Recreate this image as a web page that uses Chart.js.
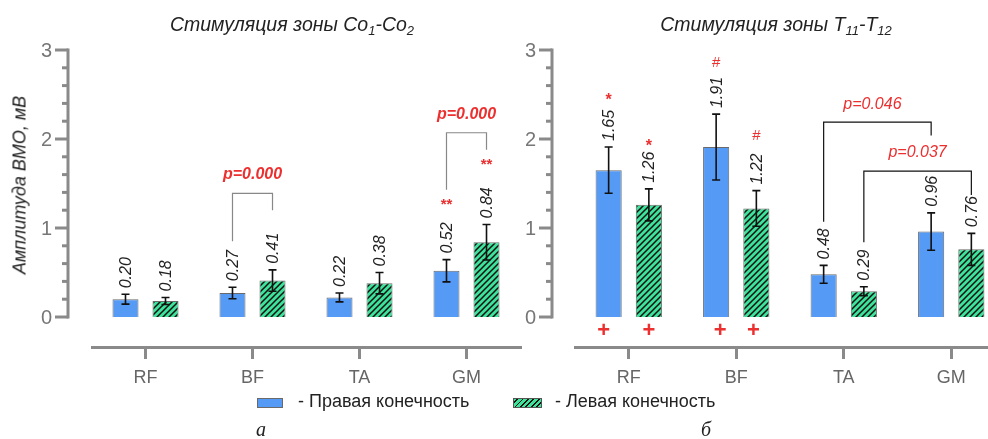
<!DOCTYPE html>
<html>
<head>
<meta charset="utf-8">
<script src="https://cdn.jsdelivr.net/npm/chart.js@4.4.1/dist/chart.umd.min.js"></script>
<style>
  html, body { margin: 0; padding: 0; width: 988px; height: 439px; overflow: hidden; background: #fff; }
  body { position: relative; font-family: "Liberation Sans", Arial, sans-serif; }
  canvas { position: absolute; top: 0; }
  #chartA { left: 0; }
  #chartB { left: 525px; }
  .title { position: absolute; top: 13px; font-size: 19.5px; font-style: italic; color: #222; white-space: nowrap; transform: translateX(-50%); }
  .title sub { font-size: 13px; vertical-align: -4px; }
  .ytitle { position: absolute; left: 20px; top: 185px; font-size: 18px; font-style: italic; color: #222; white-space: nowrap; transform: translate(-50%, -50%) rotate(-90deg); }
  .legend { position: absolute; top: 391px; font-size: 18px; color: #222; white-space: nowrap; }
  .swatch { position: absolute; top: 398px; height: 10px; box-sizing: border-box; }
  .sub-label { position: absolute; top: 418px; font-family: "Liberation Serif", "DejaVu Serif", serif; font-style: italic; font-size: 20px; color: #222; }
</style>
</head>
<body>
<canvas id="chartA" width="525" height="439"></canvas>
<canvas id="chartB" width="480" height="439"></canvas>

<div class="title" style="left:292px">Стимуляция зоны Co<sub>1</sub>-Co<sub>2</sub></div>
<div class="title" style="left:776px">Стимуляция зоны T<sub>11</sub>-T<sub>12</sub></div>
<div class="ytitle">Амплитуда ВМО, мВ</div>

<div class="swatch" style="left:257px;width:26px;background:#559af5;border:1px solid #6a6a6a"></div>
<div class="legend" style="left:298px">- Правая конечность</div>
<div class="swatch" style="left:513px;width:29px;border:1px solid #555;background:repeating-linear-gradient(-45deg,#3de39a 0 2.5px,#111 2.5px 3.8px)"></div>
<div class="legend" style="left:555px">- Левая конечность</div>
<div class="sub-label" style="left:256px">а</div>
<div class="sub-label" style="left:701px">б</div>

<script>
const categories = ['RF', 'BF', 'TA', 'GM'];

// Co1-Co2
const coRight = [0.20, 0.27, 0.22, 0.52];
const coRightErr = [0.055, 0.065, 0.05, 0.125];
const coLeft = [0.18, 0.41, 0.38, 0.84];
const coLeftErr = [0.04, 0.12, 0.12, 0.20];

// T11-T12
const thRight = [1.65, 1.91, 0.48, 0.96];
const thRightErr = [0.26, 0.37, 0.10, 0.21];
const thLeft = [1.26, 1.22, 0.29, 0.76];
const thLeftErr = [0.18, 0.20, 0.05, 0.18];

const yTicks = [0, 1, 2, 3];

const FONT = '"Liberation Sans", Arial, sans-serif';
const AXIS_GRAY = '#8a8a8a';
const RED = '#ec2f2f';
const BLUE = '#559af5';
const GREEN = '#3de39a';

function hatchPattern() {
    const c = document.createElement('canvas');
    c.width = 6; c.height = 6;
    const g = c.getContext('2d');
    g.fillStyle = GREEN;
    g.fillRect(0, 0, 6, 6);
    g.strokeStyle = '#111';
    g.lineWidth = 1.5;
    g.beginPath();
    g.moveTo(-1, 7); g.lineTo(7, -1);
    g.moveTo(-4, 4); g.lineTo(4, -4);
    g.moveTo(2, 10); g.lineTo(10, 2);
    g.stroke();
    return g.createPattern(c, 'repeat');
}

// draws y axis, error bars, value labels and the annotations
const decorPlugin = {
    id: 'decor',
    afterDatasetsDraw(chart) {
        const ctx = chart.ctx;
        const y = chart.scales.y;
        const area = chart.chartArea;
        const o = chart.options.plugins.decor;
        ctx.save();

        // y axis
        const ax = area.left - o.axisGap;
        ctx.strokeStyle = AXIS_GRAY;
        ctx.lineWidth = 3;
        ctx.beginPath();
        ctx.moveTo(ax, y.getPixelForValue(3) - 1.5);
        ctx.lineTo(ax, y.getPixelForValue(0) + 1.5);
        ctx.stroke();
        for (let i = 0; i <= 15; i++) {
            const v = i / 5;
            const py = y.getPixelForValue(v);
            const major = i % 5 === 0;
            ctx.beginPath();
            ctx.moveTo(ax, py);
            ctx.lineTo(ax - (major ? 13 : 6), py);
            ctx.stroke();
        }
        ctx.fillStyle = '#777';
        ctx.font = '20px ' + FONT;
        ctx.textAlign = 'right';
        ctx.textBaseline = 'middle';
        yTicks.forEach(t => ctx.fillText(String(t), ax - 16, y.getPixelForValue(t) + 1));

        // error bars + value labels
        chart.data.datasets.forEach((ds, di) => {
            const meta = chart.getDatasetMeta(di);
            meta.data.forEach((bar, i) => {
                const v = ds.data[i], e = ds.err[i];
                const top = y.getPixelForValue(v + e), bot = y.getPixelForValue(v - e);
                ctx.strokeStyle = '#111';
                ctx.lineWidth = 1.6;
                ctx.beginPath();
                ctx.moveTo(bar.x, top); ctx.lineTo(bar.x, bot);
                ctx.moveTo(bar.x - 4, top); ctx.lineTo(bar.x + 4, top);
                ctx.moveTo(bar.x - 4, bot); ctx.lineTo(bar.x + 4, bot);
                ctx.stroke();

                ctx.save();
                ctx.translate(bar.x, top - 6);
                ctx.rotate(-Math.PI / 2);
                ctx.fillStyle = '#222';
                ctx.font = 'italic 16px ' + FONT;
                ctx.textAlign = 'left';
                ctx.textBaseline = 'middle';
                ctx.fillText(v.toFixed(2), 0, 1);
                ctx.restore();
            });
        });

        // brackets
        (o.brackets || []).forEach(b => {
            const a = chart.getDatasetMeta(b.from[0]).data[b.from[1]];
            const c = chart.getDatasetMeta(b.to[0]).data[b.to[1]];
            ctx.strokeStyle = b.color;
            ctx.lineWidth = 1.2;
            ctx.beginPath();
            ctx.moveTo(a.x, y.getPixelForValue(b.fromY));
            ctx.lineTo(a.x, y.getPixelForValue(b.topY));
            ctx.lineTo(c.x, y.getPixelForValue(b.topY));
            ctx.lineTo(c.x, y.getPixelForValue(b.toY));
            ctx.stroke();
            ctx.fillStyle = RED;
            ctx.font = (b.bold ? 'bold ' : '') + 'italic 16px ' + FONT;
            ctx.textAlign = 'center';
            ctx.textBaseline = 'middle';
            ctx.fillText(b.text, (a.x + c.x) / 2 + (b.dx || 0), y.getPixelForValue(b.textY));
        });

        // marks (*, #, +)
        (o.marks || []).forEach(m => {
            const bar = chart.getDatasetMeta(m.ds).data[m.i];
            ctx.fillStyle = RED;
            ctx.font = m.font + ' ' + FONT;
            ctx.textAlign = 'center';
            ctx.textBaseline = 'middle';
            ctx.fillText(m.text, bar.x + (m.dx || 0), y.getPixelForValue(m.y));
        });

        ctx.restore();
    }
};

function makeChart(id, right, rightErr, left, rightLeftErr, padLeft, padRight, decor) {
    return new Chart(document.getElementById(id), {
        type: 'bar',
        data: {
            labels: categories,
            datasets: [
                { label: 'Правая конечность', data: right, err: rightErr, backgroundColor: BLUE, borderColor: '#6a6a6a', borderWidth: 1 },
                { label: 'Левая конечность', data: left, err: rightLeftErr, backgroundColor: hatchPattern(), borderColor: '#6a6a6a', borderWidth: 1 }
            ]
        },
        options: {
            responsive: false,
            animation: false,
            devicePixelRatio: 1,
            layout: { padding: { left: padLeft, right: padRight, top: 50, bottom: 0 } },
            datasets: { bar: { categoryPercentage: 0.748, barPercentage: 0.65 } },
            plugins: { legend: { display: false }, tooltip: { enabled: false }, decor: decor },
            scales: {
                x: {
                    grid: { display: true, drawOnChartArea: false, offset: false, tickLength: 12, color: AXIS_GRAY, lineWidth: 3 },
                    border: { display: true, color: AXIS_GRAY, width: 3 },
                    ticks: { color: '#666', font: { size: 18, family: FONT }, padding: 8 },
                    afterFit: s => { s.height = 92; }
                },
                y: { display: false, min: -0.337, max: 3 }
            }
        },
        plugins: [decorPlugin]
    });
}

makeChart('chartA', coRight, coRightErr, coLeft, coLeftErr, 92, 5, {
    axisGap: 24,
    brackets: [
        { from: [0, 1], to: [1, 1], fromY: 0.85, topY: 1.39, toY: 1.2, color: '#888', text: 'p=0.000', textY: 1.6, bold: true },
        { from: [0, 3], to: [1, 3], fromY: 1.43, topY: 2.07, toY: 1.88, color: '#888', text: 'p=0.000', textY: 2.27, bold: true }
    ],
    marks: [
        { ds: 0, i: 3, text: '**', y: 1.26, font: 'bold 15px' },
        { ds: 1, i: 3, text: '**', y: 1.71, font: 'bold 15px' }
    ]
});

makeChart('chartB', thRight, thRightErr, thLeft, thLeftErr, 50, 0, {
    axisGap: 23,
    brackets: [
        { from: [0, 2], to: [0, 3], fromY: 1.07, topY: 2.19, toY: 2.04, color: '#111', text: 'p=0.046', textY: 2.39, dx: -5 },
        { from: [1, 2], to: [1, 3], fromY: 0.84, topY: 1.64, toY: 1.37, color: '#111', text: 'p=0.037', textY: 1.85, dx: 0 }
    ],
    marks: [
        { ds: 0, i: 0, text: '*', y: 2.43, font: 'bold 16px' },
        { ds: 1, i: 0, text: '*', y: 1.92, font: 'bold 16px' },
        { ds: 0, i: 1, text: '#', y: 2.85, font: '15px' },
        { ds: 1, i: 1, text: '#', y: 2.04, font: '15px' },
        { ds: 0, i: 0, text: '+', y: -0.16, font: 'bold 22px', dx: -5 },
        { ds: 1, i: 0, text: '+', y: -0.16, font: 'bold 22px' },
        { ds: 0, i: 1, text: '+', y: -0.16, font: 'bold 22px', dx: 4 },
        { ds: 1, i: 1, text: '+', y: -0.16, font: 'bold 22px', dx: -3 }
    ]
});
</script>
</body>
</html>
